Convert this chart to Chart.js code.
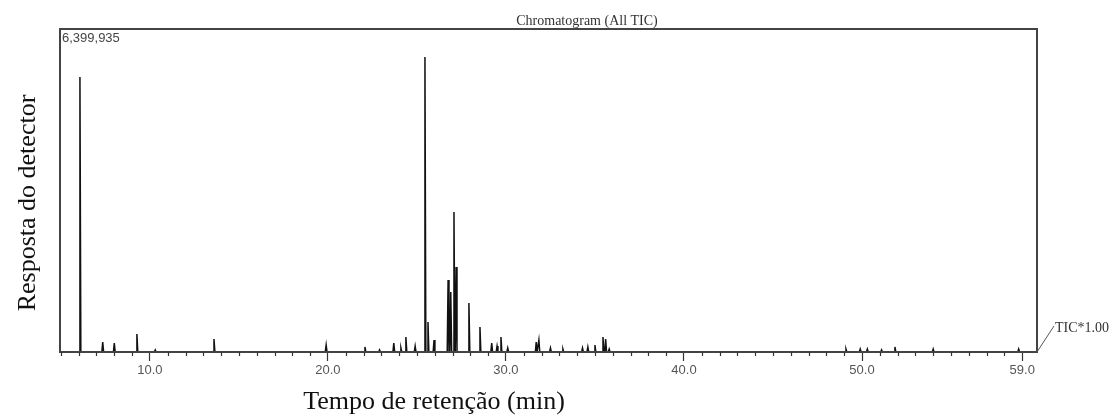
<!DOCTYPE html>
<html>
<head>
<meta charset="utf-8">
<script src="https://cdn.jsdelivr.net/npm/chart.js@4.4.0/dist/chart.umd.min.js"></script>
<style>
html, body { margin: 0; padding: 0; background: #fff; }
</style>
</head>
<body>
<canvas id="tic" width="1118" height="418"></canvas>
<script>
// retention time (min) and height (counts) of each peak
const peakTimes = [6.07, 7.35, 8.0, 9.27, 10.3, 13.6, 19.9, 22.08, 22.9, 23.7, 24.1, 24.38, 24.9,
    25.45, 25.62, 25.96, 26.75, 26.9, 27.08, 27.2, 27.92, 28.54, 29.2, 29.5, 29.72, 30.1,
    31.7, 31.85, 32.5, 33.2, 34.3, 34.6, 35.0, 35.45, 35.6, 35.8,
    49.1, 49.9, 50.3, 51.1, 51.85, 54.0, 58.8]
const peakHeights = [5449000, 198000, 178000, 357000, 40000, 258000, 139000, 99000, 40000, 178000, 79000, 297000, 119000,
    5845000, 594000, 238000, 1427000, 1189000, 2774000, 1684000, 971000, 495000, 178000, 119000, 297000, 79000,
    198000, 238000, 79000, 59000, 79000, 99000, 139000, 297000, 258000, 59000,
    59000, 59000, 59000, 40000, 99000, 59000, 59000]

const xMin = 4.95
const xMax = 59.83
const yTop = 6399935
const xTickValues = [10, 20, 30, 40, 50, 59]
const xTickLabels = ["10.0", "20.0", "30.0", "40.0", "50.0", "59.0"]
const minorTicks = [5, 6, 7, 8, 9, 11, 12, 13, 14, 15, 16, 17, 18, 19, 21, 22, 23, 24, 25, 26, 27, 28, 29,
    31, 32, 33, 34, 35, 36, 37, 38, 39, 41, 42, 43, 44, 45, 46, 47, 48, 49, 51, 52, 53, 54, 55, 56, 57, 58]

const chartTitle = "Chromatogram (All TIC)"
const maxLabel = "6,399,935"
const traceLabel = "TIC*1.00"
const xTitle = "Tempo de retenção (min)"
const yTitle = "Resposta do detector"

// each peak drawn as a narrow spike on the baseline
const halfWidth = 0.05
let points = [{x: xMin, y: 0}]
for (let i = 0; i < peakTimes.length; i++) {
    points.push({x: peakTimes[i] - halfWidth, y: 0})
    points.push({x: peakTimes[i], y: peakHeights[i]})
    points.push({x: peakTimes[i] + halfWidth, y: 0})
}
points.push({x: xMax, y: 0})

const decorPlugin = {
    id: "decor",
    afterDraw(chart) {
        const c = chart.ctx
        const a = chart.chartArea
        const xs = chart.scales.x
        c.save()
        // frame
        c.strokeStyle = "#444"
        c.lineWidth = 2
        c.strokeRect(a.left, a.top, a.right - a.left, a.bottom - a.top)
        // minor ticks
        c.lineWidth = 1.2
        c.strokeStyle = "#333"
        minorTicks.forEach(t => {
            const px = Math.round(xs.getPixelForValue(t)) + 0.5
            c.beginPath()
            c.moveTo(px, a.bottom)
            c.lineTo(px, a.bottom + 4)
            c.stroke()
        })
        // lead line to trace label
        c.lineWidth = 1
        c.strokeStyle = "#555"
        c.beginPath()
        c.moveTo(a.right, a.bottom)
        c.lineTo(a.right + 17, a.bottom - 26)
        c.stroke()

        c.fillStyle = "#333"
        c.font = "14px 'Liberation Serif'"
        c.textAlign = "center"
        c.textBaseline = "alphabetic"
        c.fillText(chartTitle, 587, 25)
        c.textAlign = "left"
        c.fillText(traceLabel, a.right + 18, 332)
        c.fillStyle = "#444"
        c.font = "13px 'Liberation Sans'"
        c.fillText(maxLabel, a.left + 2, a.top + 13)

        c.fillStyle = "#111"
        c.font = "26px 'Liberation Serif'"
        c.textAlign = "center"
        c.textBaseline = "middle"
        c.fillText(xTitle, 434, 402)
        c.translate(28, 203)
        c.rotate(-Math.PI / 2)
        c.fillText(yTitle, 0, 0)
        c.restore()
    }
}

new Chart("tic", {
    type: "line",
    data: {
        datasets: [{
            data: points,
            borderColor: "#111",
            borderWidth: 1.5,
            pointRadius: 0,
            fill: false,
            tension: 0
        }]
    },
    options: {
        responsive: false,
        animation: false,
        layout: {padding: {left: 0, top: 29, right: 81, bottom: 0}},
        plugins: {legend: {display: false}, tooltip: {enabled: false}},
        scales: {
            x: {
                type: "linear",
                min: xMin,
                max: xMax,
                afterFit: s => { s.height = 66 },
                afterBuildTicks: s => { s.ticks = xTickValues.map(v => ({value: v})) },
                grid: {drawOnChartArea: false, tickLength: 9, tickColor: "#333", tickWidth: 1.2},
                border: {display: true, color: "#444", width: 2},
                ticks: {
                    callback: (v, i) => xTickLabels[i],
                    font: {family: "Liberation Sans", size: 13},
                    color: "#555",
                    padding: 2,
                    maxRotation: 0,
                    autoSkip: false
                }
            },
            y: {
                min: 0,
                max: yTop,
                afterFit: s => { s.width = 60 },
                ticks: {display: false},
                grid: {display: false},
                border: {display: false}
            }
        }
    },
    plugins: [decorPlugin]
})
</script>
</body>
</html>
